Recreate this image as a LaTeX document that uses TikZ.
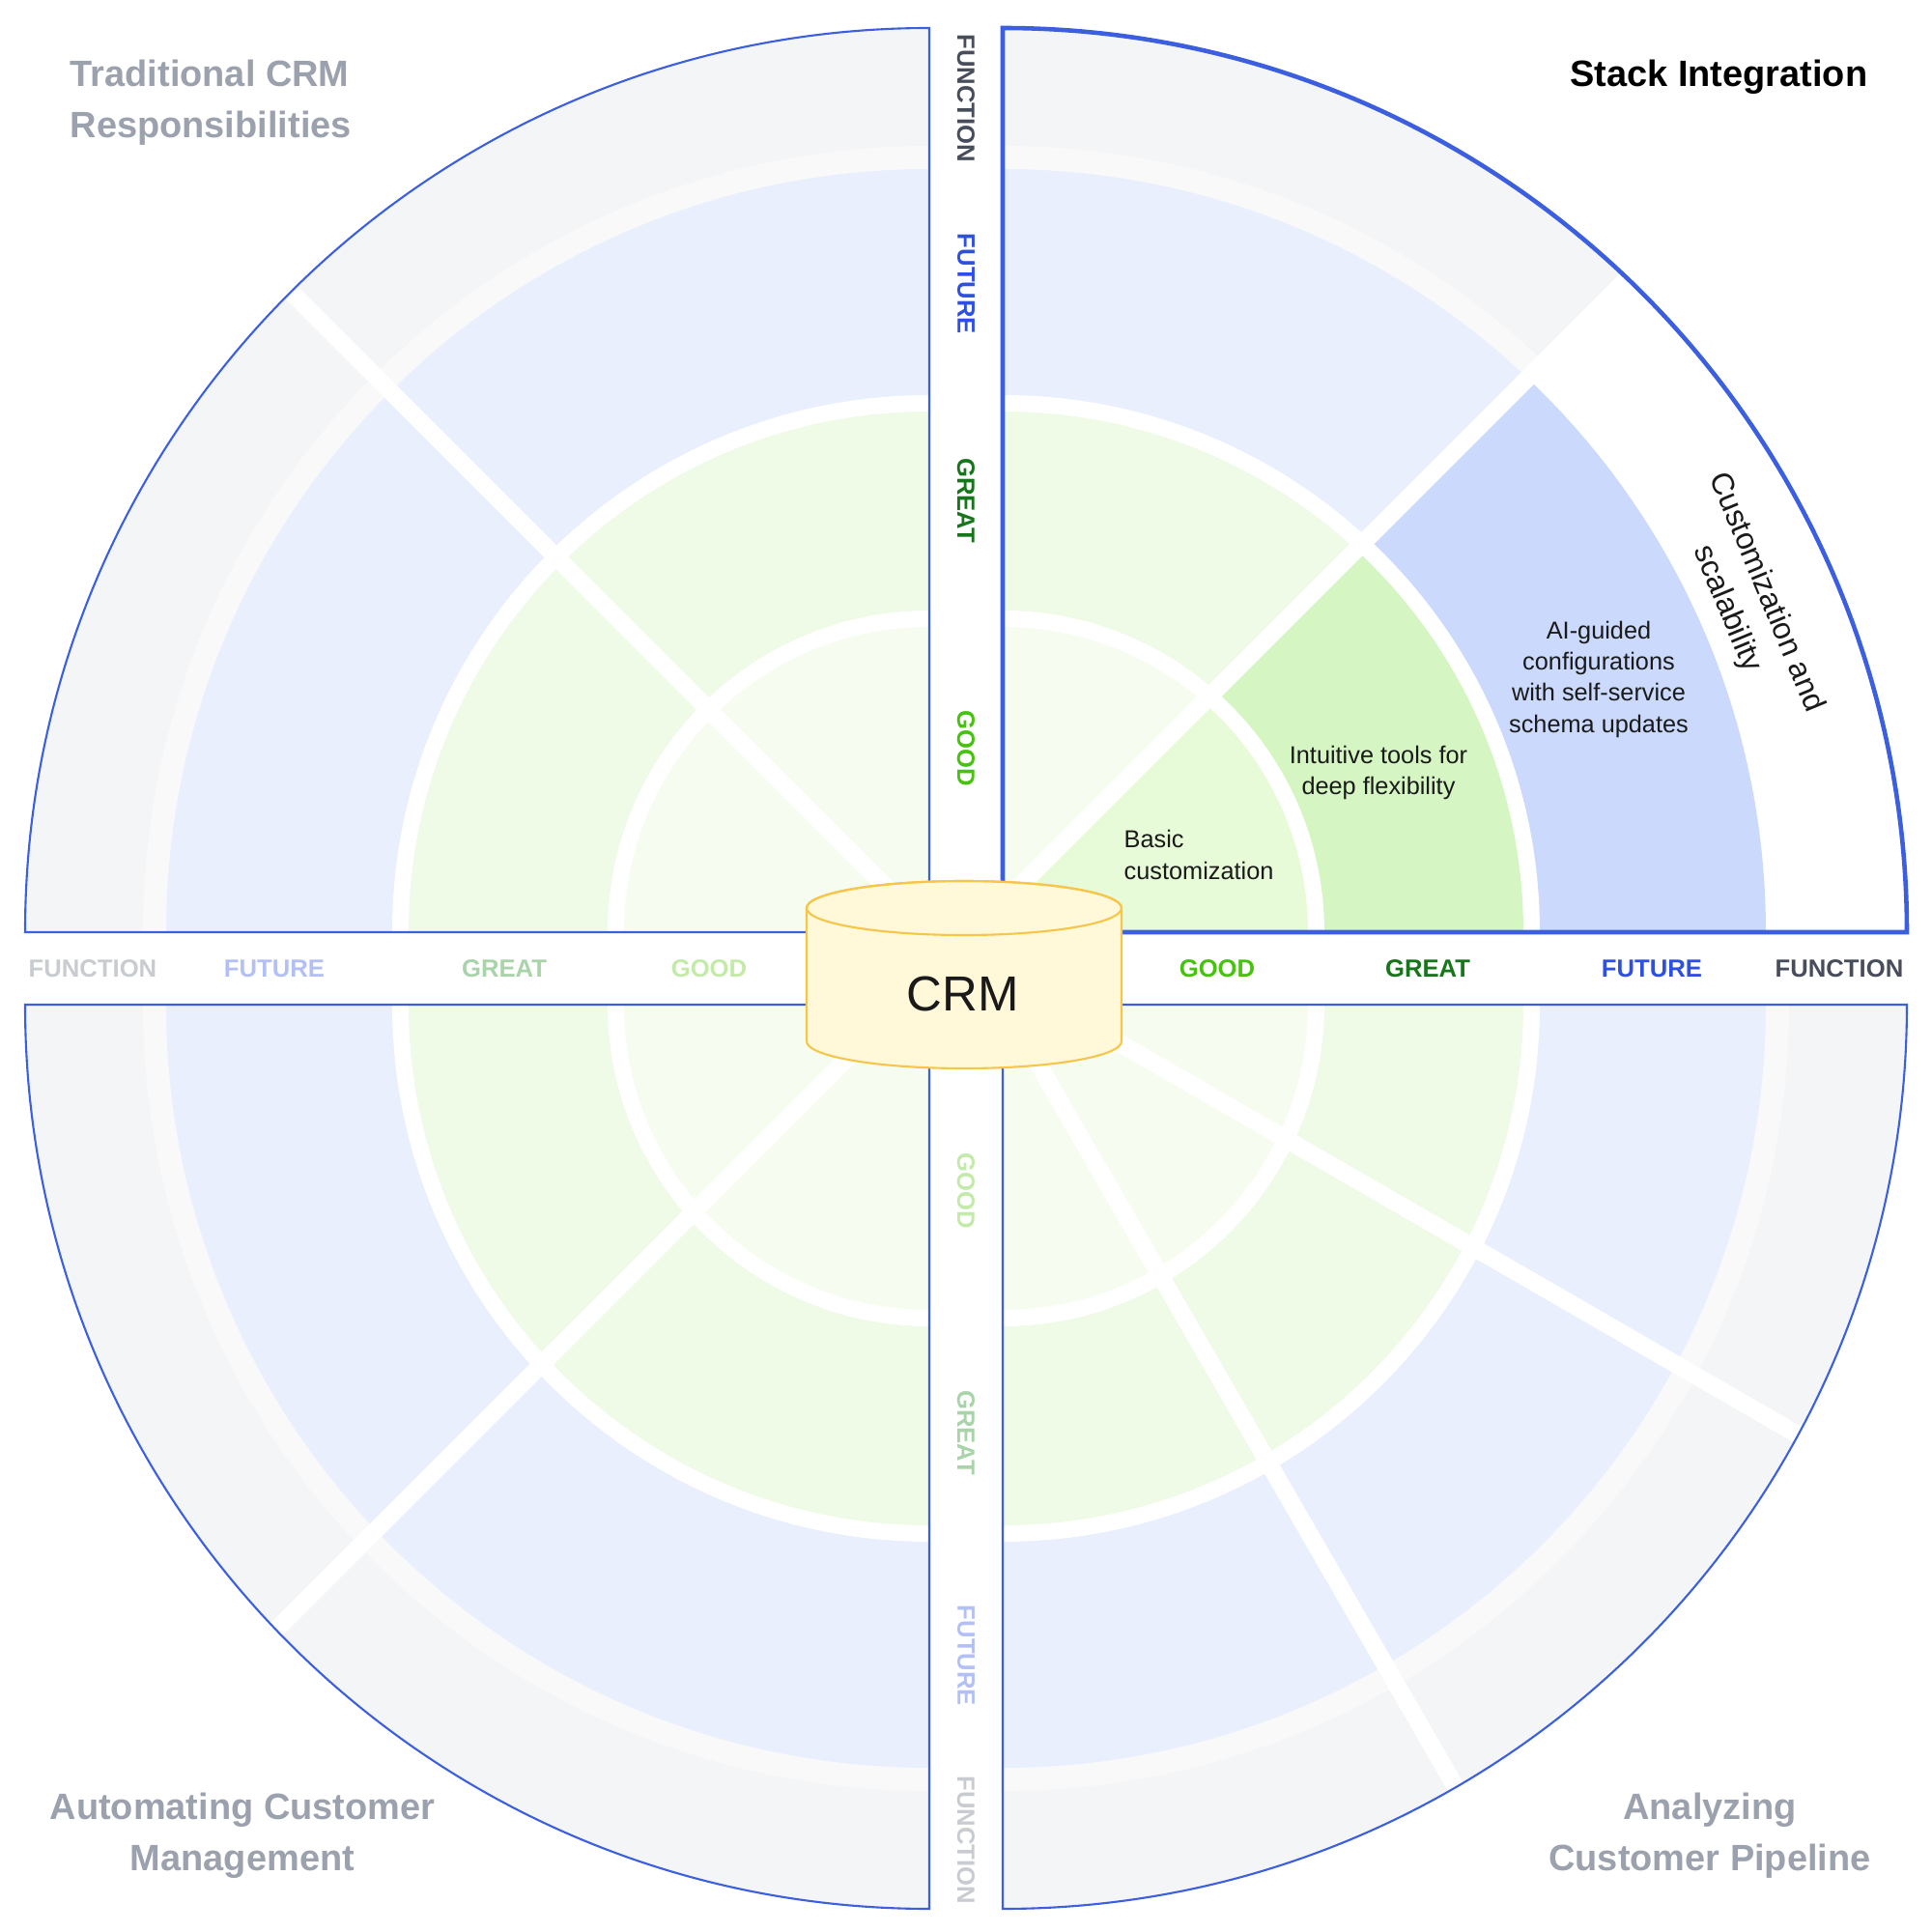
\documentclass[tikz,border=0pt]{standalone}
\usepackage{fontspec}
\setmainfont{Liberation Sans}

\definecolor{fncband}{HTML}{F4F5F7}
\definecolor{paleband}{HTML}{F9F9FA}
\definecolor{futband}{HTML}{E9EFFD}
\definecolor{grtband}{HTML}{EFFAE7}
\definecolor{gdband}{HTML}{F6FDF0}
\definecolor{futhi}{HTML}{CBDAFC}
\definecolor{grthi}{HTML}{D5F6C2}
\definecolor{gdhi}{HTML}{E8FBD8}
\definecolor{edgeblue}{HTML}{3C5FE0}
\definecolor{fnctxt}{HTML}{474D5B}
\definecolor{futtxt}{HTML}{2E4FE3}
\definecolor{grttxt}{HTML}{16761A}
\definecolor{gdtxt}{HTML}{47C20F}
\definecolor{fncpale}{HTML}{C8CBD0}
\definecolor{futpale}{HTML}{B3C0F6}
\definecolor{grtpale}{HTML}{A9D3A9}
\definecolor{gdpale}{HTML}{C3EAA8}
\definecolor{titlegray}{HTML}{9BA1AD}
\definecolor{bodytxt}{HTML}{1A1A1A}
\definecolor{crmfill}{HTML}{FFF8D9}
\definecolor{crmedge}{HTML}{F7C548}

\tikzset{
    divider/.style={white, line width=0.18cm},
    quadedge/.style={draw=edgeblue, line width=0.6pt},
    quadactive/.style={draw=edgeblue, line width=1.3pt},
    axislabel/.style={font=\bfseries\fontsize{7.3}{8}\selectfont, inner sep=0pt},
    quadtitle/.style={font=\bfseries\fontsize{10.8}{15}\selectfont, text=titlegray, inner sep=0pt},
    segtext/.style={font=\fontsize{7.2}{9.2}\selectfont, text=bodytxt, inner sep=0pt},
}

\begin{document}
\begin{tikzpicture}
    \useasboundingbox (-10,-9.97) rectangle (10,10.03);

    % rings of the four quadrants
    \foreach \cx/\cy/\a in {-0.38/0.38/90, 0.38/0.38/0, -0.38/-0.37/180, 0.38/-0.37/270} {
        \foreach \r/\col in {9.36/fncband, 8.14/paleband, 7.90/futband, 5.56/white, 5.39/grtband, 3.33/white, 3.16/gdband}
            \fill[\col] (\cx,\cy) -- ++(\a:\r) arc[start angle=\a, delta angle=90, radius=\r] -- cycle;
    }

    % highlighted segment, below the divider
    \begin{scope}
        \clip (0.38,0.38) -- (10.5,0.38) -- (10.5,10.8) -- (0.38,0.68) -- cycle;
        \foreach \r/\col in {9.36/white, 7.90/futhi, 5.56/white, 5.39/grthi, 3.33/white, 3.16/gdhi}
            \fill[\col] (0.38,0.38) -- ++(0:\r) arc[start angle=0, delta angle=90, radius=\r] -- cycle;
    \end{scope}

    % segment dividers
    \draw[divider] (0,0.30) -- ++(45:10);
    \draw[divider] (0,0.02) -- ++(135:10);
    \draw[divider] (0,0.30) -- ++(225:10.3);
    \draw[divider] (0,0.15) -- ++(-30:10);
    \draw[divider] (0,0.31) -- ++(-60:10.2);

    % quadrant outlines
    \draw[quadedge] (-0.38,0.38) -- ++(90:9.36) arc[start angle=90, delta angle=90, radius=9.36] -- cycle;
    \draw[quadedge] (-0.38,-0.37) -- ++(180:9.36) arc[start angle=180, delta angle=90, radius=9.36] -- cycle;
    \draw[quadedge] (0.38,-0.37) -- ++(270:9.36) arc[start angle=270, delta angle=90, radius=9.36] -- cycle;
    \draw[quadactive] (0.38,0.38) -- ++(0:9.36) arc[start angle=0, delta angle=90, radius=9.36] -- cycle;

    % axis labels
    \node[axislabel, text=gdtxt] (rgood) at (2.60,0) {GOOD};
    \node[axislabel, text=grttxt] (rgreat) at (4.78,0) {GREAT};
    \node[axislabel, text=futtxt] (rfuture) at (7.10,0) {FUTURE};
    \node[axislabel, text=fnctxt] (rfunction) at (9.04,0) {FUNCTION};
    \node[axislabel, text=gdpale] (lgood) at (-2.66,0) {GOOD};
    \node[axislabel, text=grtpale] (lgreat) at (-4.78,0) {GREAT};
    \node[axislabel, text=futpale] (lfuture) at (-7.16,0) {FUTURE};
    \node[axislabel, text=fncpale] (lfunction) at (-9.04,0) {FUNCTION};
    \node[axislabel, rotate=-90, text=gdtxt] (tgood) at (0,2.28) {GOOD};
    \node[axislabel, rotate=-90, text=grttxt] (tgreat) at (0,4.85) {GREAT};
    \node[axislabel, rotate=-90, text=futtxt] (tfuture) at (0,7.09) {FUTURE};
    \node[axislabel, rotate=-90, text=fnctxt] (tfunction) at (0,9.01) {FUNCTION};
    \node[axislabel, rotate=-90, text=gdpale] (bgood) at (0,-2.30) {GOOD};
    \node[axislabel, rotate=-90, text=grtpale] (bgreat) at (0,-4.80) {GREAT};
    \node[axislabel, rotate=-90, text=futpale] (bfuture) at (0,-7.11) {FUTURE};
    \node[axislabel, rotate=-90, text=fncpale] (bfunction) at (0,-9.02) {FUNCTION};

    % quadrant titles
    \node[quadtitle, align=left, anchor=west] (traditional) at (-9.28,8.97) {Traditional CRM\\Responsibilities};
    \node[quadtitle, text=black, anchor=east] (stack) at (9.34,9.23) {Stack Integration};
    \node[quadtitle, align=center] (automating) at (-7.49,-8.97) {Automating Customer\\Management};
    \node[quadtitle, align=center] (analyzing) at (7.70,-8.97) {Analyzing\\Customer Pipeline};

    % highlighted segment texts
    \node[segtext, align=left, anchor=west] (basic) at (1.63,1.18) {Basic\\customization};
    \node[segtext, align=center] (intuitive) at (4.27,2.03) {Intuitive tools for\\deep flexibility};
    \node[segtext, align=center] (aiguided) at (6.55,3.00) {AI-guided\\configurations\\with self-service\\schema updates};
    \node[segtext, align=center, rotate=-67.5, font=\fontsize{9.1}{12.5}\selectfont] (customization) at (8.08,3.81) {Customization and\\scalability};

    % CRM store
    \filldraw[fill=crmfill, draw=crmedge, line width=0.6pt] (-1.65,0.63) -- (-1.65,-0.75) arc[start angle=180, end angle=360, x radius=1.63, y radius=0.28] -- (1.61,0.63) arc[start angle=0, end angle=180, x radius=1.63, y radius=0.28] -- cycle;
    \draw[crmedge, line width=0.6pt] (-0.02,0.63) ellipse[x radius=1.63, y radius=0.28];
    \node[font=\fontsize{14.5}{16}\selectfont, text=bodytxt] (crm) at (-0.03,-0.26) {CRM};
\end{tikzpicture}
\end{document}
